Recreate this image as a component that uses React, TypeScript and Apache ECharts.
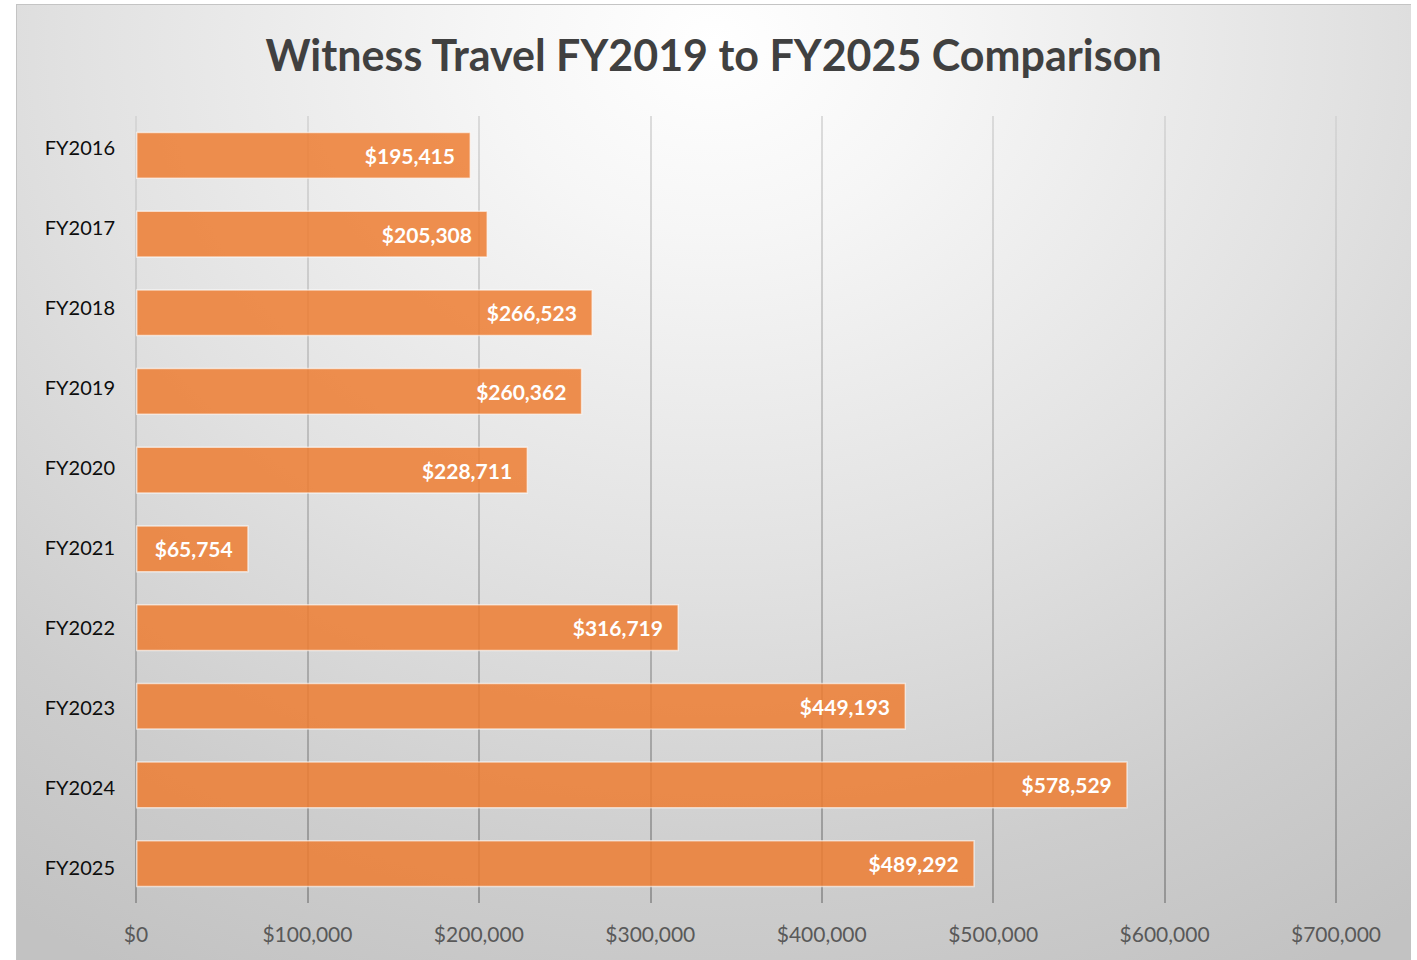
import React, { useEffect, useRef } from "react";
import * as echarts from "echarts";

const titleText = "Witness Travel FY2019 to FY2025 Comparison";
const categories = ["FY2016", "FY2017", "FY2018", "FY2019", "FY2020", "FY2021", "FY2022", "FY2023", "FY2024", "FY2025"];
const values = [195415, 205308, 266523, 260362, 228711, 65754, 316719, 449193, 578529, 489292];
const axisMax = 700000;
const axisStep = 100000;

const fmt = (v: number) => "$" + v.toLocaleString("en-US");

export default function App() {
  const ref = useRef<HTMLDivElement>(null);
  useEffect(() => {
    if (!ref.current) return;
    const chart = echarts.init(ref.current, undefined, { renderer: "svg" });
    const font = "Lato, 'Open Sans', sans-serif";
    chart.setOption({
      animation: false,
      title: {
        text: titleText,
        left: "center",
        top: 24,
        textStyle: { fontFamily: font, fontSize: 43, fontWeight: "bold", color: "#404040" },
      },
      grid: [
        { left: 120, right: 75, top: 112, bottom: 57, containLabel: false },
        { left: 120, right: 75, top: 103, bottom: 53, containLabel: false },
      ],
      xAxis: [
        {
          type: "value",
          gridIndex: 0,
          min: 0,
          max: axisMax,
          interval: axisStep,
          axisLine: { show: false },
          axisTick: { show: false },
          axisLabel: {
            formatter: (v: number) => fmt(v),
            fontFamily: font,
            fontSize: 21,
            color: "#595959",
            margin: 20,
          },
          splitLine: {
            show: true,
            lineStyle: {
              width: 1.5,
              color: new echarts.graphic.LinearGradient(0, 112, 0, 899, [
                { offset: 0, color: "#d2d2d2" },
                { offset: 1, color: "#858585" },
              ], true),
            },
          },
        },
        {
          type: "value",
          gridIndex: 1,
          min: 0,
          max: axisMax,
          show: false,
        },
      ],
      yAxis: [
        {
          type: "category",
          gridIndex: 0,
          data: categories,
          inverse: true,
          axisLine: { show: false },
          axisTick: { show: false },
          axisLabel: { show: false },
          splitLine: { show: false },
        },
        {
          type: "category",
          gridIndex: 1,
          data: categories,
          inverse: true,
          axisLine: { show: false },
          axisTick: { show: false },
          axisLabel: { fontFamily: font, fontSize: 20, color: "#0d0d0d", margin: 21 },
          splitLine: { show: false },
        },
      ],
      series: [
        {
          type: "bar",
          xAxisIndex: 0,
          yAxisIndex: 0,
          data: values,
          barWidth: "60%",
          itemStyle: {
            color: "rgba(237,125,49,0.85)",
            borderColor: "rgba(255,255,255,0.6)",
            borderWidth: 1.5,
          },
          label: {
            show: true,
            position: "insideRight",
            distance: 16,
            formatter: (p: any) => fmt(p.value),
            fontFamily: font,
            fontSize: 21,
            fontWeight: "bold",
            color: "#ffffff",
          },
        },
      ],
    });
    return () => chart.dispose();
  }, []);
  return (
    <div
      ref={ref}
      style={{
        position: "absolute",
        left: 16,
        top: 4,
        width: 1395,
        height: 956,
        boxShadow: "inset 1px 1px 0 #c4c4c4",
        background:
          "radial-gradient(ellipse 90% 110% at 50% 4%, #ffffff 0%, #f6f6f6 18%, #e2e2e2 50%, #cdcdcd 80%, #c2c2c2 100%)",
      }}
    />
  );
}
